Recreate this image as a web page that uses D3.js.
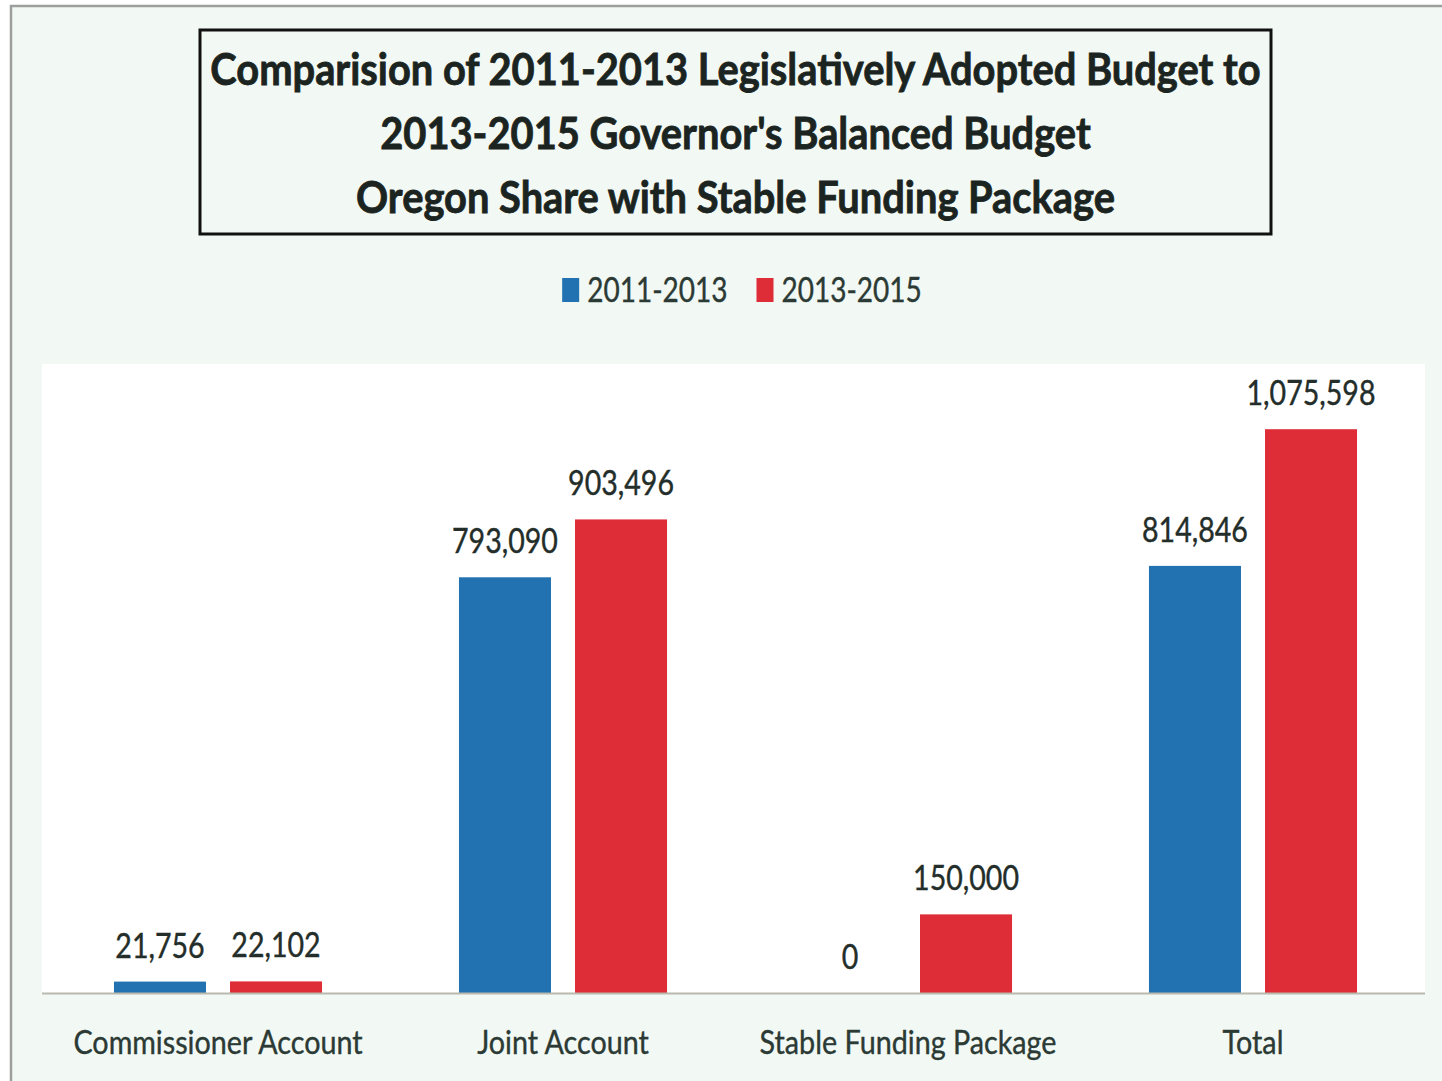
<!DOCTYPE html>
<html>
<head>
<meta charset="utf-8">
<script src="https://cdn.jsdelivr.net/npm/d3@7"></script>
<style>
  html, body { margin: 0; padding: 0; background: #ffffff; }
  svg { display: block; }
  text { font-family: Lato, "Open Sans", sans-serif; }
</style>
</head>
<body>
<svg id="chart" width="1442" height="1081"></svg>
<script>
// Budget comparison, Oregon share (dollars)
const categories = ["Commissioner Account", "Joint Account", "Stable Funding Package", "Total"];
const seriesNames = ["2011-2013", "2013-2015"];
const values2011 = [21756, 793090, 0, 814846];
const values2013 = [22102, 903496, 150000, 1075598];
const titleLines = [
  "Comparision of 2011-2013 Legislatively Adopted Budget to",
  "2013-2015 Governor's Balanced Budget",
  "Oregon Share with Stable Funding Package"
];

const W = 1442, H = 1081;
const colors = { "2011-2013": "#2271b1", "2013-2015": "#de2d37" };
const textColor = "#232d29";

const svg = d3.select("#chart");

// horizontal condensing of glyphs (narrow, tall lettering)
function condense(sel, k) {
  sel.each(function () {
    const w = this.getComputedTextLength();
    d3.select(this).attr("textLength", w * k).attr("lengthAdjust", "spacingAndGlyphs");
  });
}

// page frame
svg.append("rect").attr("x", 0).attr("y", 0).attr("width", W).attr("height", H).attr("fill", "#ffffff");
svg.append("rect")
  .attr("x", 11).attr("y", 6).attr("width", W + 20).attr("height", H + 20)
  .attr("fill", "#f2f9f4").attr("stroke", "#9c9f9c").attr("stroke-width", 2.5);

// title box
svg.append("rect")
  .attr("x", 200).attr("y", 30).attr("width", 1071).attr("height", 204)
  .attr("fill", "none").attr("stroke", "#111").attr("stroke-width", 3);

const titleG = svg.append("g");
titleG.selectAll("text").data(titleLines).join("text")
  .attr("x", 735.5)
  .attr("y", (d, i) => 85 + i * 64)
  .attr("text-anchor", "middle")
  .attr("font-size", 44)
  .attr("font-weight", 700)
  .attr("fill", "#1b2420")
  .attr("stroke", "#1b2420")
  .attr("stroke-width", 0.8)
  .text(d => d)
  .call(condense, 0.905);

// plot area
const plot = { left: 42, right: 1425, top: 364, bottom: 993 };
svg.append("rect")
  .attr("x", plot.left).attr("y", plot.top)
  .attr("width", plot.right - plot.left).attr("height", plot.bottom - plot.top)
  .attr("fill", "#ffffff");

const x0 = d3.scaleBand().domain(categories).range([45.5, 1425.5]).paddingInner(0).paddingOuter(0);
const x1 = d3.scaleBand().domain(seriesNames).range([0, x0.bandwidth()]).paddingInner(0.207).paddingOuter(0.59);
const y = d3.scaleLinear().domain([0, 1200000]).range([plot.bottom, plot.top]);

const rows = categories.map((c, i) => ({
  category: c,
  items: [
    { series: seriesNames[0], value: values2011[i] },
    { series: seriesNames[1], value: values2013[i] }
  ]
}));

const groups = svg.append("g").selectAll("g").data(rows).join("g")
  .attr("transform", d => `translate(${x0(d.category)},0)`);

groups.selectAll("rect").data(d => d.items).join("rect")
  .attr("x", d => x1(d.series))
  .attr("width", x1.bandwidth())
  .attr("y", d => y(d.value))
  .attr("height", d => y(0) - y(d.value))
  .attr("fill", d => colors[d.series]);

const fmt = d3.format(",");
groups.selectAll("text.value").data(d => d.items).join("text")
  .attr("class", "value")
  .attr("x", d => x1(d.series) + x1.bandwidth() / 2)
  .attr("y", d => y(d.value) - 24)
  .attr("text-anchor", "middle")
  .attr("font-size", 34)
  .attr("fill", textColor)
  .attr("stroke", textColor)
  .attr("stroke-width", 0.4)
  .text(d => fmt(d.value))
  .call(condense, 0.84);

// baseline
svg.append("line")
  .attr("x1", plot.left).attr("x2", plot.right)
  .attr("y1", y(0) + 0.5).attr("y2", y(0) + 0.5)
  .attr("stroke", "#b9b9ad").attr("stroke-width", 2);

// category axis
const xAxis = d3.axisBottom(x0).tickSize(0).tickPadding(0);
const axisG = svg.append("g").attr("transform", `translate(0,${plot.bottom})`).call(xAxis);
axisG.select(".domain").remove();
axisG.selectAll("text")
  .attr("y", 61).attr("dy", 0)
  .attr("font-size", 33)
  .attr("font-family", "Lato, sans-serif")
  .attr("fill", "#2c3a35")
  .attr("stroke", "#2c3a35")
  .attr("stroke-width", 0.4)
  .call(condense, 0.87);

// legend
const legend = svg.append("g");
const items = legend.selectAll("g").data(seriesNames).join("g");
items.append("rect")
  .attr("width", 17).attr("height", 24)
  .attr("y", 278)
  .attr("fill", d => colors[d]);
items.append("text")
  .attr("x", 25).attr("y", 302)
  .attr("font-size", 35)
  .attr("fill", "#2c3a35")
  .attr("stroke", "#2c3a35")
  .attr("stroke-width", 0.4)
  .text(d => d)
  .call(condense, 0.80);
let cursor = 0;
const itemX = [];
items.each(function () {
  itemX.push(cursor);
  cursor += this.getBBox().width + 29;
});
const legendW = cursor - 29;
items.attr("transform", (d, i) => `translate(${742 - legendW / 2 + itemX[i]},0)`);
</script>
</body>
</html>
